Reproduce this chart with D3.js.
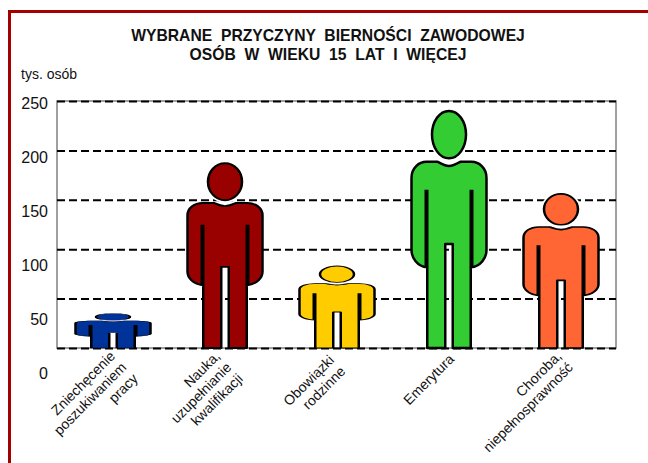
<!DOCTYPE html>
<html>
<head>
<meta charset="utf-8">
<script src="https://d3js.org/d3.v7.min.js"></script>
<style>
html, body { margin: 0; padding: 0; background: #fff; }
text { font-family: "Liberation Sans", Arial, sans-serif; fill: #111; }
</style>
</head>
<body>
<svg id="chart" width="648" height="463"></svg>
<script>
const categories = [
    ["Zniechęcenie", "poszukiwaniem", "pracy"],
    ["Nauka,", "uzupełnianie", "kwalifikacji"],
    ["Obowiązki", "rodzinne"],
    ["Emerytura"],
    ["Choroba,", "niepełnosprawność"]
];
const values = [35, 187, 83, 240, 156];
const colors = ["#003399", "#990000", "#ffcc00", "#33cc33", "#ff6633"];
const gridTicks = [0, 50, 100, 150, 200, 250];
const tickLabels = [0, 50, 100, 150, 200, 250];
const titleLines = ["WYBRANE  PRZYCZYNY  BIERNOŚCI  ZAWODOWEJ", "OSÓB  W  WIEKU  15  LAT  I  WIĘCEJ"];

const svg = d3.select("#chart");
const width = 559, height = 247;
const margin = {left: 57, top: 101};

// frame, only top and left side
svg.append("path")
    .attr("d", "M9.5,463V11.5H648")
    .attr("fill", "none")
    .attr("stroke", "#a50000")
    .attr("stroke-width", 3);

svg.selectAll("text.title")
    .data(titleLines)
    .enter().append("text")
    .attr("class", "title")
    .attr("x", 328)
    .attr("y", (d, i) => 41 + i * 18.5)
    .attr("text-anchor", "middle")
    .attr("font-size", 15.7)
    .attr("font-weight", "bold")
    .style("white-space", "pre")
    .text(d => d);

svg.append("text")
    .attr("x", 21)
    .attr("y", 79)
    .attr("font-size", 14)
    .text("tys. osób");

var x = d3.scaleBand()
    .domain(d3.range(categories.length))
    .range([0, 560]);

var y = d3.scaleLinear()
    .domain([0, 250])
    .range([height, 0]);

// labels don't sit on the gridlines in the original, they have their own spacing
var yLabels = d3.scaleLinear()
    .domain([0, 250])
    .range([272.5, 2.5]);

var g = svg.append("g")
    .attr("transform", "translate(" + margin.left + "," + margin.top + ")");

g.append("rect")
    .attr("x", 0)
    .attr("y", 0)
    .attr("width", width)
    .attr("height", height)
    .attr("fill", "none")
    .attr("stroke", "#808080")
    .attr("stroke-width", 1.5);

var grid = g.append("g")
    .call(d3.axisLeft(y).tickValues(gridTicks).tickSize(-width).tickFormat(""));
grid.select(".domain").remove();
grid.selectAll("line")
    .attr("stroke", "#000")
    .attr("stroke-width", 2)
    .attr("stroke-dasharray", "8,4");

var labels = g.append("g")
    .call(d3.axisLeft(yLabels).tickValues(tickLabels).tickSize(0).tickPadding(9));
labels.select(".domain").remove();
labels.selectAll("text")
    .attr("font-size", 16)
    .attr("font-family", "Liberation Sans")
    .attr("fill", "#111");

// person is drawn at full size then squashed in y, the strokes get thin on
// the short ones the same way as in the original picture
const fullHeight = 237;
var px = d3.scaleLinear().domain([-1, 1]).range([-37.5, 37.5]);
var py = d3.scaleLinear().domain([0, 1]).range([0, fullHeight]);

function personBody() {
    var p = d3.path();
    p.moveTo(px(0.1), py(1));
    p.lineTo(px(0.1), py(0.561));
    p.lineTo(px(-0.1), py(0.561));
    p.lineTo(px(-0.1), py(1));
    p.lineTo(px(-0.58), py(1));
    p.lineTo(px(-0.58), py(0.66));
    p.bezierCurveTo(px(-0.85), py(0.655), px(-1), py(0.62), px(-1), py(0.586));
    p.lineTo(px(-1), py(0.283));
    p.bezierCurveTo(px(-1), py(0.24), px(-0.8), py(0.215), px(-0.6), py(0.215));
    p.lineTo(px(-0.3), py(0.215));
    p.quadraticCurveTo(px(-0.1), py(0.232), px(0), py(0.232));
    p.quadraticCurveTo(px(0.1), py(0.232), px(0.3), py(0.215));
    p.lineTo(px(0.6), py(0.215));
    p.bezierCurveTo(px(0.8), py(0.215), px(1), py(0.24), px(1), py(0.283));
    p.lineTo(px(1), py(0.586));
    p.bezierCurveTo(px(1), py(0.62), px(0.85), py(0.655), px(0.58), py(0.66));
    p.lineTo(px(0.58), py(1));
    p.closePath();
    return p.toString();
}

// slits between arms and trunk, as narrow black rectangles
function personSlits() {
    var p = d3.path();
    [-0.6, 0.6].forEach(u => {
        p.rect(px(u) - 2, py(0.333), 4, py(0.66) - py(0.333));
    });
    return p.toString();
}

var people = g.selectAll("g.person")
    .data(values)
    .enter().append("g")
    .attr("class", "person")
    .attr("transform", (d, i) => "translate(" + (x(i) + x.bandwidth() / 2) + "," + y(d) + ") scale(1," + ((height - y(d)) / fullHeight) + ")");

people.append("path")
    .attr("d", personBody())
    .attr("fill", (d, i) => colors[i])
    .attr("stroke", "#000")
    .attr("stroke-width", 2.5)
    .attr("stroke-linejoin", "round");

people.append("path")
    .attr("d", personSlits())
    .attr("fill", "#000")
    .attr("stroke", "none");

// head with a white halo so the gridline stops at the neck
[["#fff", 6], [null, 2.5]].forEach(s => {
    people.append("ellipse")
        .attr("cx", 0)
        .attr("cy", py(0.1))
        .attr("rx", 17)
        .attr("ry", py(0.1))
        .attr("fill", (d, i) => s[0] || colors[i])
        .attr("stroke", s[0] || "#000")
        .attr("stroke-width", s[1]);
});

// hand placed offsets, the labels in the original are not evenly spread
const labelDx = [0, -7, -5, 3, -1.5];
const labelDy = [0, 0, 4, 3, 0];

var catLabels = g.selectAll("text.cat")
    .data(categories)
    .enter().append("text")
    .attr("class", "cat")
    .attr("transform", (d, i) => "translate(" + (x(i) + x.bandwidth() / 2 + 3 + labelDx[i]) + "," + (height + 9 + labelDy[i]) + ") rotate(-45)")
    .attr("text-anchor", "end")
    .attr("font-size", 14);

catLabels.selectAll("tspan")
    .data(d => d)
    .enter().append("tspan")
    .attr("x", 0)
    .attr("y", (d, i) => i * 16)
    .text(d => d);
</script>
</body>
</html>
